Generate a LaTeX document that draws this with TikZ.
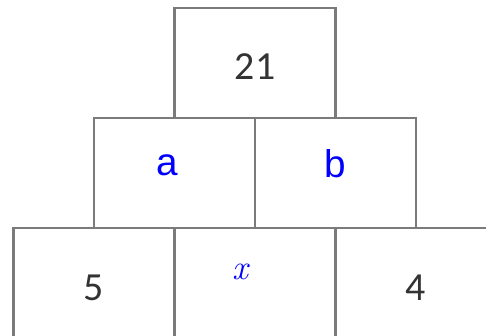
\documentclass[tikz,border=0pt]{standalone}
\usepackage{fontspec}
\usepackage{xcolor}
\usetikzlibrary{positioning}
\newfontfamily\digitfont{Carlito}
\newfontfamily\letterfont{Liberation Sans}
\definecolor{pyrLine}{HTML}{7B7B7B}
\definecolor{pyrInk}{HTML}{333333}
\definecolor{pyrBlue}{HTML}{0000FF}
\tikzset{
  brick/.style={draw=pyrLine,line width=2.4pt,fill=white,minimum width=4.83cm,
    minimum height=3.3cm,inner sep=0pt,outer sep=0pt},
  given/.style={text=pyrInk,font=\digitfont\fontsize{34}{40}\selectfont,inner sep=0pt},
  unknown/.style={text=pyrBlue,font=\letterfont\fontsize{33}{38}\selectfont,inner sep=0pt},
  mathvar/.style={text=pyrBlue,font=\itshape\fontsize{30}{34}\selectfont,inner sep=0pt}
}

\begin{document}
\begin{tikzpicture}[x=0.03cm,y=-0.03cm,node distance=0pt]
\useasboundingbox (0,0) rectangle (486,335);
\clip (0,0) rectangle (486,335);
% the three rows of the pyramid
\node[brick] (top) at (255,63) {};
\node[brick,anchor=north east] (left) at (top.south) {};
\node[brick,right=of left] (right) {};
\node[brick,anchor=north east] (base1) at (left.south) {};
\node[brick,right=of base1] (base2) {};
\node[brick,right=of base2] (base3) {};
% numbers and letters
\node[given] (sum) at ([yshift=-0.12cm]top.center) {21};
\node[unknown] (la) at ([xshift=-0.21cm,yshift=0.24cm]left.center) {a};
\node[unknown] (lb) at ([yshift=0.27cm]right.center) {b};
\node[given] (n5) at ([yshift=-0.15cm]base1.center) {5};
\node[mathvar] (lx) at ([xshift=-0.45cm,yshift=0.33cm]base2.center) {x};
\node[given] (n4) at ([yshift=-0.15cm]base3.center) {4};
\end{tikzpicture}
\end{document}
